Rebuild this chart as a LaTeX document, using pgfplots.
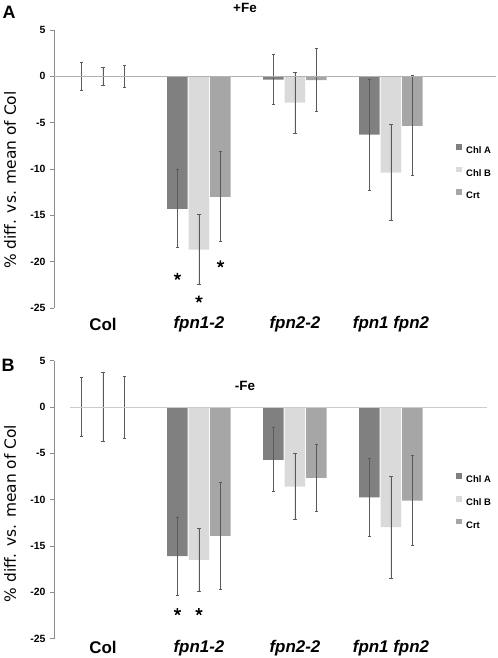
\documentclass[border=0pt]{standalone}
\usepackage{pgfplots}
\pgfplotsset{compat=1.18}
\usepackage{fontspec}
\setmainfont{Liberation Sans}
\newfontfamily\dejavu{DejaVu Sans}
\definecolor{chlA}{RGB}{128,128,128}
\definecolor{chlB}{RGB}{218,218,218}
\definecolor{crt}{RGB}{166,166,166}
\definecolor{errc}{RGB}{90,90,90}
\pgfplotsset{
  panel/.style={
    scale only axis, width=442bp, height=278bp, anchor=south west,
    xmin=-0.51, xmax=4.094, ymin=-25, ymax=5,
    axis y line*=left, axis x line*=bottom,
    x axis line style={draw=none},
    y axis line style={-, draw=black!45, line width=0.7bp},
    xtick={0,1,2,3},
    xticklabels={Col,\textit{fpn1-2},\textit{fpn2-2},\textit{fpn1 fpn2}},
    xtick style={draw=none},
    ytick={-25,-20,...,5},
    ytick style={draw=black!45, line width=0.7bp},
    tick align=outside, major tick length=4bp,
    /pgf/number format/assume math mode=true,
    yticklabel style={font=\bfseries\fontsize{10.5}{12}\selectfont, xshift=-1bp},
    ylabel={\% diff. vs. mean of Col},
    ylabel style={font=\dejavu\fontsize{15.5}{18}\selectfont, anchor=center},
    legend style={draw=none, fill=none, anchor=north west, inner sep=0pt,
      font=\bfseries\fontsize{9.5}{10}\selectfont, row sep=13.1bp, column sep=4.5bp,
      nodes={inner sep=0pt, text height=6.7bp, text depth=0pt}},
    legend cell align=left,
    legend image code/.code={\fill[##1] (0bp,0.6bp) rectangle (5.5bp,6.1bp);},
  },
  bA/.style={ybar, bar width=20.5bp, bar shift=0bp, fill=chlA, draw=none},
  bB/.style={ybar, bar width=20.5bp, bar shift=0bp, fill=chlB, draw=none},
  bC/.style={ybar, bar width=20.5bp, bar shift=0bp, fill=crt, draw=none},
  eb/.style={error bars/.cd, y dir=both, y explicit,
    error bar style={errc, line width=0.75bp},
    error mark=-, error mark options={errc, rotate=90, mark size=1.8bp, line width=0.9bp}},
}
\begin{document}
\begin{tikzpicture}
\useasboundingbox (0,0) rectangle (498bp,658bp);
% ---------------- Panel A ----------------
\begin{axis}[panel, at={(54bp,350bp)},
  xticklabel style={font=\bfseries\fontsize{17}{20}\selectfont, anchor=center, yshift=-12bp},
  ylabel style={at={(axis description cs:-0.0995,0.46)}},
  legend style={at={(0.9095,0.59)}}]
% Chl A (x = group - 0.224)
\addplot[bA, eb] coordinates {(-0.224,0) +- (0,1.5) (0.776,-14.3) +- (0,4.2) (1.776,-0.35) +- (0,2.68) (2.776,-6.3) +- (0,6.0)};
% Chl B (x = group)
\addplot[bB, eb] coordinates {(0,0) +- (0,1.0) (1,-18.7) +- (0,3.8) (2,-2.85) +- (0,3.3) (3,-10.4) +- (0,5.2)};
% Crt (x = group + 0.224)
\addplot[bC, eb] coordinates {(0.224,0) +- (0,1.15) (1.224,-13.0) +- (0,4.85) (2.224,-0.4) +- (0,3.4) (3.224,-5.35) +- (0,5.4)};
\addplot[black!30, line width=0.8bp, no marks, forget plot] coordinates {(-0.51,0) (4.094,0)};
\addplot[only marks, mark=star, mark size=3.6bp, line width=1.5bp, black, forget plot]
  coordinates {(0.776,-21.6) (1.0,-24.05) (1.224,-20.25)};
\legend{Chl A, Chl B, Crt}
\end{axis}
% ---------------- Panel B ----------------
\begin{axis}[panel, at={(54bp,19.3bp)},
  xticklabel style={font=\bfseries\fontsize{17}{20}\selectfont, anchor=center, yshift=-5bp},
  ylabel style={at={(axis description cs:-0.0995,0.45)}},
  legend style={at={(0.9095,0.595)}}]
\addplot[bA, eb] coordinates {(-0.224,0) +- (0,3.2) (0.776,-16.1) +- (0,4.2) (1.776,-5.7) +- (0,3.45) (2.776,-9.75) +- (0,4.25)};
\addplot[bB, eb] coordinates {(0,0) +- (0,3.75) (1,-16.5) +- (0,3.45) (2,-8.6) +- (0,3.55) (3,-12.95) +- (0,5.5)};
\addplot[bC, eb] coordinates {(0.224,0) +- (0,3.35) (1.224,-13.9) +- (0,5.8) (2.224,-7.65) +- (0,3.6) (3.224,-10.1) +- (0,4.85)};
\addplot[black!20, line width=0.8bp, no marks, forget plot] coordinates {(-0.344,0) (4.0,0)};
\addplot[only marks, mark=star, mark size=3.6bp, line width=1.5bp, black, forget plot]
  coordinates {(0.776,-22.1) (1.0,-22.1)};
\legend{Chl A, Chl B, Crt}
\end{axis}
% ---------------- Panel letters and titles ----------------
\node[font=\bfseries\fontsize{18}{20}\selectfont] at (9bp,646bp) {A};
\node[font=\bfseries\fontsize{18}{20}\selectfont] at (8bp,293bp) {B};
\node[font=\bfseries\fontsize{13.5}{16}\selectfont] at (245bp,649.7bp) {+Fe};
\node[font=\bfseries\fontsize{13.5}{16}\selectfont] at (245bp,272bp) {-Fe};
\end{tikzpicture}
\end{document}
